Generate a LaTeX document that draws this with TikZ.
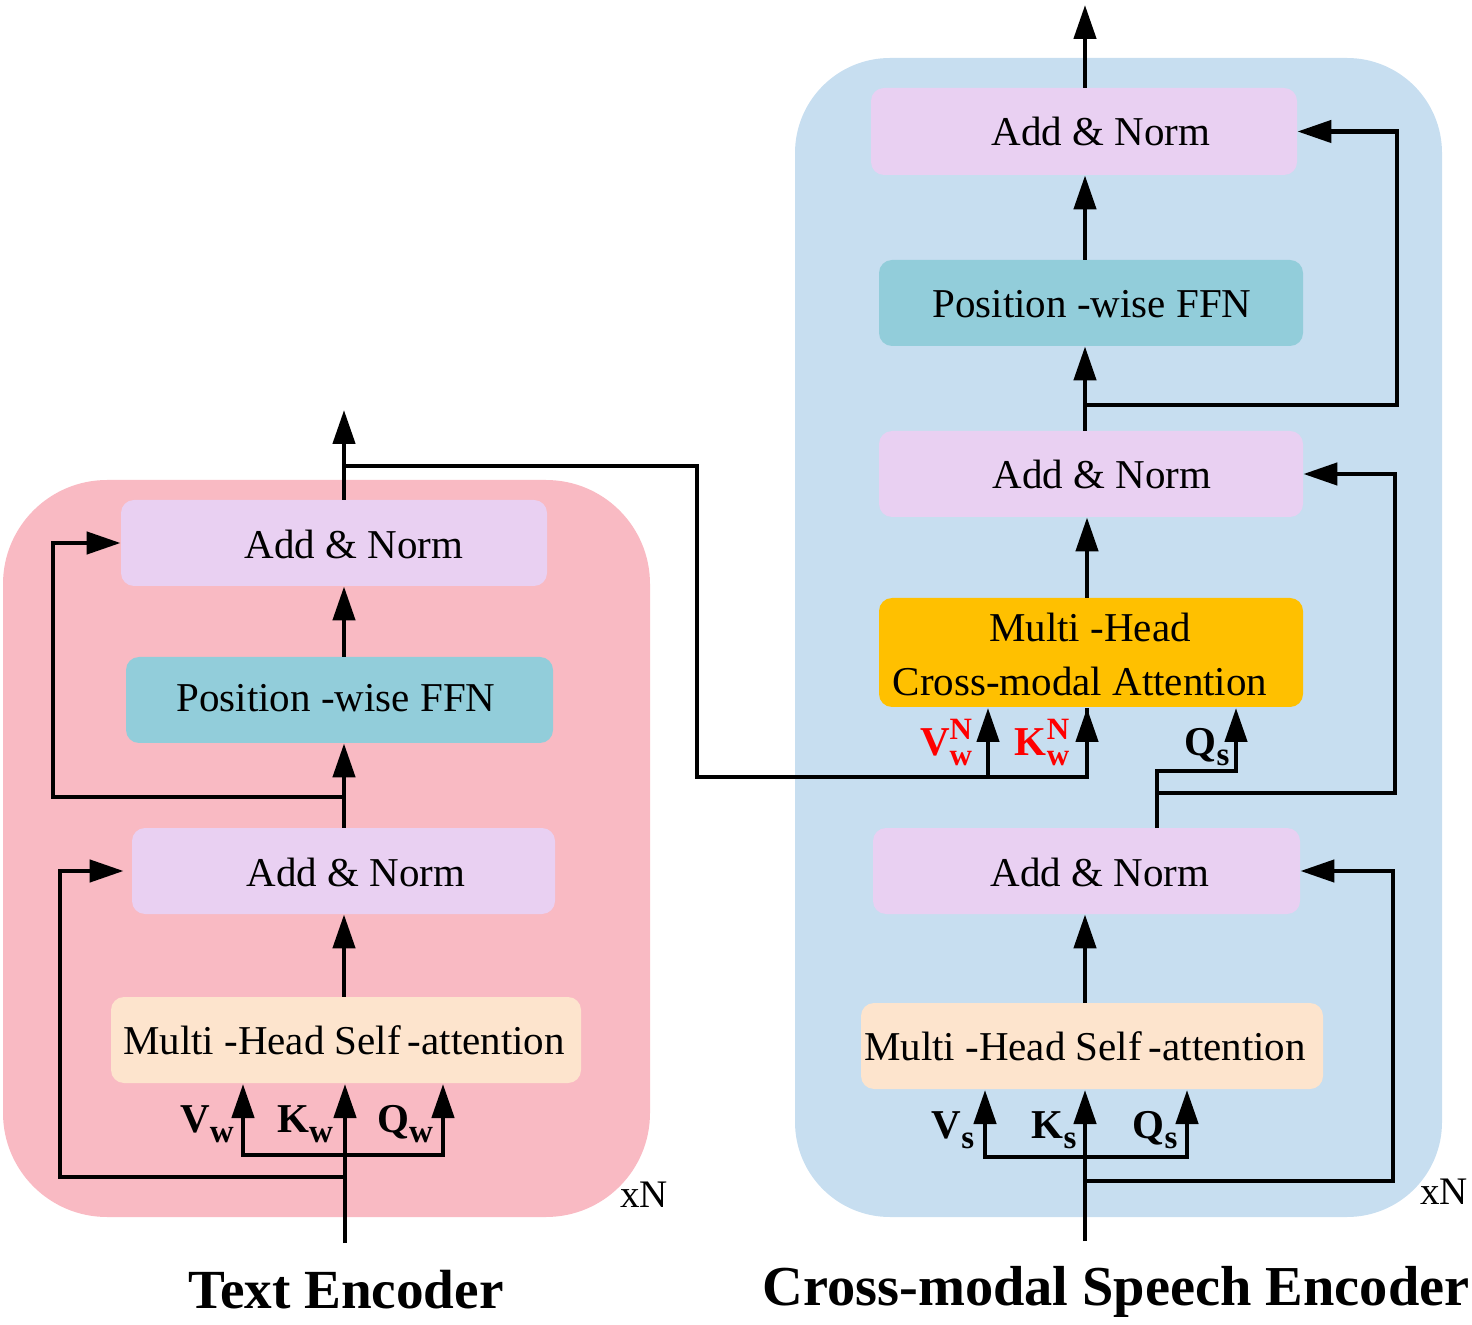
\documentclass[tikz,border=0pt]{standalone}
\usepackage{fontspec}
\setmainfont{Liberation Serif}
\usetikzlibrary{arrows.meta}
\definecolor{pinkbg}{RGB}{249,186,195}
\definecolor{bluebg}{RGB}{199,222,240}
\definecolor{lavcol}{RGB}{233,208,242}
\definecolor{ffncol}{RGB}{146,205,218}
\definecolor{sacol}{RGB}{253,228,205}
\definecolor{cacol}{RGB}{255,192,0}
\definecolor{redlab}{RGB}{255,0,0}
\newcommand\qkvsub[2]{#1\raisebox{-5pt}{\fontsize{16.5}{16}\selectfont #2}}
\newcommand\qkvsup[2]{#1\raisebox{-5pt}{\fontsize{15.5}{13}\selectfont\begin{tabular}[b]{@{}l@{}}N\\#2\end{tabular}}}
\tikzset{
  panel/.style={fill=#1, draw=none, inner sep=0pt},
  blk/.style={fill=#1, draw=none, rounded corners=6.5pt, inner sep=0pt},
  btxt/.style={font=\fontsize{20.5}{24}\selectfont, inner sep=0pt},
  qlab/.style={font=\fontsize{20.5}{24}\selectfont\bfseries, inner sep=0pt},
  ttl/.style={font=\fontsize{27.6}{32}\selectfont\bfseries, inner sep=0pt},
  xn/.style={font=\fontsize{19.5}{22}\selectfont, inner sep=0pt},
  conn/.style={line width=2.25pt, black},
  arr/.style={conn, -{Triangle[length=17pt,width=11pt]}},
}
\begin{document}
\begin{tikzpicture}[x=0.5pt,y=-0.5pt]
\useasboundingbox (0,0) rectangle (1472,1325);
% panels
\node[panel=pinkbg, rounded corners=52pt, minimum width=323.5pt, minimum height=368.5pt] (lpanel) at (326.5,848.5) {};
\node[panel=bluebg, rounded corners=47.5pt, minimum width=323.5pt, minimum height=579.5pt] (rpanel) at (1118.5,637.5) {};
% left blocks
\node[blk=lavcol, minimum width=213pt, minimum height=43pt] (lan1) at (334,543) {};
\node[blk=ffncol, minimum width=213.5pt, minimum height=43pt] (lffn) at (339.5,700) {};
\node[blk=lavcol, minimum width=211.5pt, minimum height=43pt] (lan2) at (343.5,871) {};
\node[blk=sacol, minimum width=235pt, minimum height=43pt] (lsa) at (346,1040) {};
\node[btxt] (lan1t) at (354,544) {Add \& Norm};
\node[btxt] (lffnt) at (336,698) {Position -wise FFN};
\node[btxt] (lan2t) at (356,872) {Add \& Norm};
\node[btxt] (lsat) at (344,1040) {Multi -Head Self\,-attention};
% right blocks
\node[blk=lavcol, minimum width=213pt, minimum height=43.5pt] (ran1) at (1084,131.5) {};
\node[blk=ffncol, minimum width=212pt, minimum height=43pt] (rffn) at (1091,303) {};
\node[blk=lavcol, minimum width=212pt, minimum height=43pt] (ran2) at (1091,474) {};
\node[blk=cacol, minimum width=212pt, minimum height=54.5pt] (rca) at (1091,652.5) {};
\node[blk=lavcol, minimum width=213.5pt, minimum height=43pt] (ran3) at (1086.5,871) {};
\node[blk=sacol, minimum width=231pt, minimum height=43pt] (rsa) at (1092,1046) {};
\node[btxt] (ran1t) at (1101,131) {Add \& Norm};
\node[btxt] (rffnt) at (1092,304) {Position -wise FFN};
\node[btxt] (ran2t) at (1102,474) {Add \& Norm};
\node[btxt] (rcat1) at (1090,627) {Multi -Head};
\node[btxt] (rcat2) at (1080,681) {Cross-modal Attention};
\node[btxt] (ran3t) at (1100,872) {Add \& Norm};
\node[btxt] (rsat) at (1085,1046) {Multi -Head Self\,-attention};
% coordinates left
\coordinate (lx) at (344,0);
\coordinate (lin) at (345,1243);
\coordinate (lsplit) at (345,1155);
\coordinate (lres) at (345,1177);
\coordinate (lL1) at (60,1177);
\coordinate (lv) at (243,1084);
\coordinate (lk) at (345,1084);
\coordinate (lq) at (443,1084);
\coordinate (lb2) at (344,797);
\coordinate (lL2) at (53,797);
\coordinate (lout) at (344,410);
\coordinate (lb3) at (344,466);
\coordinate (cr1) at (697,466);
\coordinate (cr2) at (697,777);
\coordinate (cvw) at (988,708);
\coordinate (ckw) at (1087,708);
% left connectors
\draw[conn] (lin) -- (lsplit);
\draw[arr] (lsplit) -| (lv);
\draw[arr] (lsplit) -- (lk);
\draw[arr] (lsplit) -| (lq);
\draw[arr, shorten >=4pt] (lres) -- (lL1) |- (lan2.west);
\draw[arr] (lsa.north -| lx) -- (lan2.south -| lx);
\draw[arr] (lan2.north -| lx) -- (lffn.south -| lx);
\draw[arr] (lb2) -- (lL2) |- (lan1.west);
\draw[arr] (lffn.north -| lx) -- (lan1.south -| lx);
\draw[arr] (lan1.north -| lx) -- (lout);
\draw[conn] (lb3) -- (cr1) -- (cr2) -- (cr2 -| ckw) -- (ckw);
\draw[arr] (cr2 -| ckw) -- (ckw);
\draw[arr] (cr2 -| cvw) -- (cvw);
% right coordinates
\coordinate (rx) at (1085,0);
\coordinate (rin) at (1085,1241);
\coordinate (rsplit) at (1085,1157);
\coordinate (rres) at (1085,1181);
\coordinate (rR1) at (1393,1181);
\coordinate (rv) at (985,1090);
\coordinate (rk) at (1085,1090);
\coordinate (rq) at (1187,1090);
\coordinate (rqb) at (1157,828);
\coordinate (rq1) at (1157,771);
\coordinate (rqs) at (1236,708);
\coordinate (rb2) at (1157,793);
\coordinate (rR2) at (1395,793);
\coordinate (rb3) at (1085,405);
\coordinate (rR3) at (1397,405);
\coordinate (rout) at (1085,5);
\coordinate (rcx) at (1087,0);
% right connectors
\draw[conn] (rin) -- (rsplit);
\draw[arr] (rsplit) -| (rv);
\draw[arr] (rsplit) -- (rk);
\draw[arr] (rsplit) -| (rq);
\draw[arr] (rres) -- (rR1) |- (ran3.east);
\draw[arr] (rsa.north -| rx) -- (ran3.south -| rx);
\draw[arr] (rqb) -- (rq1) -| (rqs);
\draw[arr] (rb2) -- (rR2) |- (ran2.east);
\draw[arr] (rca.north -| rcx) -- (ran2.south -| rcx);
\draw[arr] (ran2.north -| rx) -- (rffn.south -| rx);
\draw[arr] (rb3) -- (rR3) |- (ran1.east);
\draw[arr] (rffn.north -| rx) -- (ran1.south -| rx);
\draw[arr] (ran1.north -| rx) -- (rout);
% labels
\node[qlab] (lvl) at (207,1124) {\qkvsub{V}{w}};
\node[qlab] (lkl) at (305,1124) {\qkvsub{K}{w}};
\node[qlab] (lql) at (405,1124) {\qkvsub{Q}{w}};
\node[qlab] (rvl) at (953,1130) {\qkvsub{V}{s}};
\node[qlab] (rkl) at (1054,1130) {\qkvsub{K}{s}};
\node[qlab] (rql) at (1155,1130) {\qkvsub{Q}{s}};
\node[qlab, text=redlab] (vwn) at (946,746) {\qkvsup{V}{w}};
\node[qlab, text=redlab] (kwn) at (1042,746) {\qkvsup{K}{w}};
\node[qlab] (rqs2) at (1207,747) {\qkvsub{Q}{s}};
\node[xn] (xn1) at (644,1195) {xN};
\node[xn] (xn2) at (1444,1192) {xN};
\node[ttl] (t1) at (346,1290) {Text Encoder};
\node[ttl, font=\fontsize{28.2}{32}\selectfont\bfseries] (t2) at (1116,1292) {Cross-modal Speech Encoder};
\end{tikzpicture}
\end{document}
